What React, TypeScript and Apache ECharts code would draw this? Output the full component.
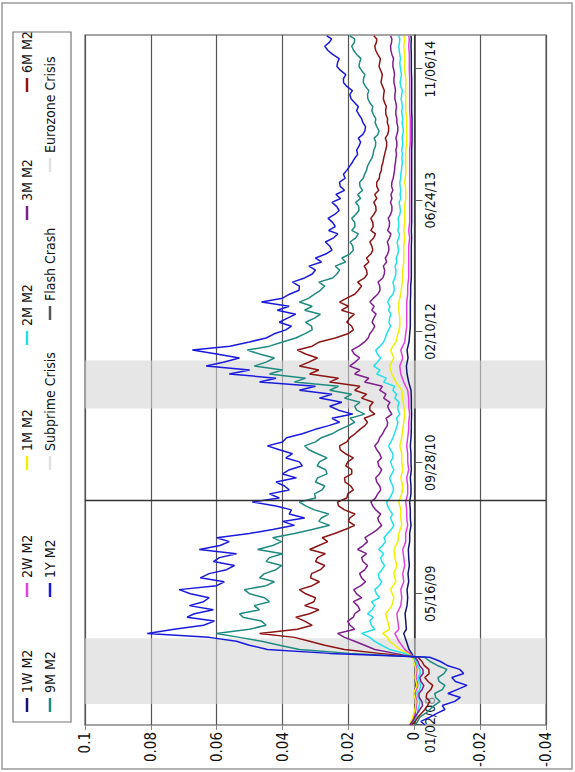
import React, { useEffect, useRef } from "react";
import * as echarts from "echarts";

// ---------- data ----------
// monthly sampling (short-tenor series)
const datesMonthly = [
  "2008-01-02", "2008-02-01", "2008-03-01", "2008-04-01", "2008-05-01", "2008-06-01", "2008-07-01", "2008-08-01",
  "2008-09-01", "2008-09-16", "2008-10-01", "2008-10-16", "2008-11-01", "2008-11-16", "2008-12-01", "2008-12-16",
  "2009-01-01", "2009-02-01", "2009-03-01", "2009-04-01", "2009-05-01", "2009-06-01", "2009-07-01", "2009-08-01", "2009-09-01", "2009-10-01", "2009-11-01", "2009-12-01",
  "2010-01-01", "2010-02-01", "2010-03-01", "2010-04-01", "2010-05-01", "2010-06-01", "2010-07-01", "2010-08-01", "2010-09-01", "2010-10-01", "2010-11-01", "2010-12-01",
  "2011-01-01", "2011-02-01", "2011-03-01", "2011-04-01", "2011-05-01", "2011-06-01", "2011-07-01", "2011-08-01", "2011-09-01", "2011-10-01", "2011-11-01", "2011-12-01",
  "2012-01-01", "2012-02-01", "2012-03-01", "2012-04-01", "2012-05-01", "2012-06-01", "2012-07-01", "2012-08-01", "2012-09-01", "2012-10-01", "2012-11-01", "2012-12-01",
  "2013-01-01", "2013-02-01", "2013-03-01", "2013-04-01", "2013-05-01", "2013-06-01", "2013-07-01", "2013-08-01", "2013-09-01", "2013-10-01", "2013-11-01", "2013-12-01",
  "2014-01-01", "2014-02-01", "2014-03-01", "2014-04-01", "2014-05-01", "2014-06-01", "2014-07-01", "2014-08-01", "2014-09-01", "2014-10-01", "2014-11-01", "2014-12-01",
  "2015-01-01", "2015-02-01", "2015-03-01", "2015-03-13",
];

// semi-monthly sampling (longer-tenor series)
const datesHalfMonthly = [
  "2008-01-02", "2008-01-16", "2008-02-01", "2008-02-16", "2008-03-01", "2008-03-16", "2008-04-01", "2008-04-16", "2008-05-01", "2008-05-16", "2008-06-01", "2008-06-16",
  "2008-07-01", "2008-07-16", "2008-08-01", "2008-08-16", "2008-09-01", "2008-09-16", "2008-10-01", "2008-10-16", "2008-11-01", "2008-11-16", "2008-12-01", "2008-12-16",
  "2009-01-01", "2009-01-16", "2009-02-01", "2009-02-16", "2009-03-01", "2009-03-16", "2009-04-01", "2009-04-16", "2009-05-01", "2009-05-16", "2009-06-01", "2009-06-16",
  "2009-07-01", "2009-07-16", "2009-08-01", "2009-08-16", "2009-09-01", "2009-09-16", "2009-10-01", "2009-10-16", "2009-11-01", "2009-11-16", "2009-12-01", "2009-12-16",
  "2010-01-01", "2010-01-16", "2010-02-01", "2010-02-16", "2010-03-01", "2010-03-16", "2010-04-01", "2010-04-16", "2010-05-01", "2010-05-16", "2010-06-01", "2010-06-16",
  "2010-07-01", "2010-07-16", "2010-08-01", "2010-08-16", "2010-09-01", "2010-09-16", "2010-10-01", "2010-10-16", "2010-11-01", "2010-11-16", "2010-12-01", "2010-12-16",
  "2011-01-01", "2011-01-16", "2011-02-01", "2011-02-16", "2011-03-01", "2011-03-16", "2011-04-01", "2011-04-16", "2011-05-01", "2011-05-16", "2011-06-01", "2011-06-16",
  "2011-07-01", "2011-07-16", "2011-08-01", "2011-08-16", "2011-09-01", "2011-09-16", "2011-10-01", "2011-10-16", "2011-11-01", "2011-11-16", "2011-12-01", "2011-12-16",
  "2012-01-01", "2012-01-16", "2012-02-01", "2012-02-16", "2012-03-01", "2012-03-16", "2012-04-01", "2012-04-16", "2012-05-01", "2012-05-16", "2012-06-01", "2012-06-16",
  "2012-07-01", "2012-07-16", "2012-08-01", "2012-08-16", "2012-09-01", "2012-09-16", "2012-10-01", "2012-10-16", "2012-11-01", "2012-11-16", "2012-12-01", "2012-12-16",
  "2013-01-01", "2013-01-16", "2013-02-01", "2013-02-16", "2013-03-01", "2013-03-16", "2013-04-01", "2013-04-16", "2013-05-01", "2013-05-16", "2013-06-01", "2013-06-16",
  "2013-07-01", "2013-07-16", "2013-08-01", "2013-08-16", "2013-09-01", "2013-09-16", "2013-10-01", "2013-10-16", "2013-11-01", "2013-11-16", "2013-12-01", "2013-12-16",
  "2014-01-01", "2014-01-16", "2014-02-01", "2014-02-16", "2014-03-01", "2014-03-16", "2014-04-01", "2014-04-16", "2014-05-01", "2014-05-16", "2014-06-01", "2014-06-16",
  "2014-07-01", "2014-07-16", "2014-08-01", "2014-08-16", "2014-09-01", "2014-09-16", "2014-10-01", "2014-10-16", "2014-11-01", "2014-11-16", "2014-12-01", "2014-12-16",
  "2015-01-01", "2015-01-16", "2015-02-01", "2015-02-16", "2015-03-01", "2015-03-13",
];

const w1M2 = [
  0.0008, 0.0002, -0.0003, -0.0005, 0.0, -0.0006, -0.0002, -0.0004, 0.0, 0.0002,
  0.0008, 0.0016, 0.002, 0.0024, 0.0028, 0.0032,
  0.0024, 0.0026, 0.0028, 0.0022, 0.002, 0.0022, 0.0017, 0.0019, 0.0015, 0.0017, 0.0018, 0.0014,
  0.0014, 0.001, 0.0012, 0.0012, 0.0014, 0.001, 0.001, 0.0012, 0.0009, 0.001, 0.001, 0.0012,
  0.001, 0.0009, 0.0009, 0.0008, 0.0009, 0.0009, 0.001, 0.0017, 0.0022, 0.0024, 0.0019, 0.0022,
  0.0016, 0.0014, 0.0012, 0.0012, 0.0012, 0.0012, 0.0011, 0.0011, 0.0009, 0.0009, 0.0009, 0.0009,
  0.0009, 0.0008, 0.0009, 0.0008, 0.0008, 0.0008, 0.0008, 0.0008, 0.0008, 0.0008, 0.0008, 0.0008,
  0.0008, 0.0007, 0.0007, 0.0007, 0.0007, 0.0008, 0.0008, 0.0008, 0.0008, 0.0008, 0.0009, 0.0009,
  0.0009, 0.001, 0.0009, 0.001,
];

const w2M2 = [
  0.0011, 0.0002, -0.0005, -0.0008, -0.0002, -0.0011, -0.0005, -0.0008, -0.0002, 0.0002,
  0.0014, 0.0029, 0.0038, 0.0047, 0.0053, 0.0059,
  0.0047, 0.005, 0.0053, 0.0041, 0.0038, 0.0041, 0.0032, 0.0035, 0.0029, 0.0032, 0.0035, 0.0026,
  0.0026, 0.002, 0.0023, 0.0023, 0.0026, 0.002, 0.002, 0.0023, 0.0017, 0.002, 0.002, 0.0023,
  0.002, 0.0017, 0.0017, 0.0014, 0.0017, 0.0017, 0.002, 0.0032, 0.0041, 0.0044, 0.0035, 0.0041,
  0.0029, 0.0026, 0.0023, 0.0023, 0.0023, 0.0023, 0.002, 0.002, 0.0017, 0.0017, 0.0017, 0.0017,
  0.0017, 0.0014, 0.0017, 0.0014, 0.0014, 0.0014, 0.0014, 0.0014, 0.0014, 0.0014, 0.0014, 0.0014,
  0.0014, 0.0012, 0.0012, 0.0012, 0.0012, 0.0014, 0.0014, 0.0014, 0.0014, 0.0014, 0.0015, 0.0015,
  0.0015, 0.0017, 0.0015, 0.0017,
];

const m1M2 = [
  0.0014, 0.0005, -0.0002, -0.0005, 0.0002, -0.0008, -0.0002, -0.0005, 0.0002, 0.0005,
  0.002, 0.0044, 0.0059, 0.0075, 0.0081, 0.0096,
  0.0075, 0.0081, 0.0087, 0.0068, 0.0062, 0.0072, 0.0056, 0.0062, 0.0053, 0.0059, 0.0062, 0.005,
  0.0047, 0.0038, 0.0041, 0.0041, 0.0047, 0.0038, 0.0035, 0.0041, 0.0035, 0.0038, 0.0038, 0.0044,
  0.0038, 0.0035, 0.0032, 0.0029, 0.0032, 0.0035, 0.0038, 0.0056, 0.0068, 0.0075, 0.0062, 0.0072,
  0.0056, 0.005, 0.0044, 0.0044, 0.0047, 0.0047, 0.0041, 0.0038, 0.0035, 0.0035, 0.0032, 0.0032,
  0.0032, 0.0029, 0.0032, 0.0029, 0.0029, 0.0029, 0.0026, 0.0026, 0.0029, 0.0026, 0.0026, 0.0026,
  0.0026, 0.0023, 0.0023, 0.0023, 0.0023, 0.0026, 0.0026, 0.0026, 0.0026, 0.0026, 0.0029, 0.0029,
  0.0029, 0.0032, 0.0029, 0.0032,
];

const m2M2 = [
  0.0008, 0.0, -0.0005, -0.0009, -0.0011, -0.0015, -0.0017, -0.0012, -0.0008, -0.0016, -0.002, -0.0014,
  -0.0011, -0.0018, -0.0017, -0.001, -0.0005, 0.0002, 0.0029, 0.0075, 0.0099, 0.012, 0.0135, 0.016,
  0.012, 0.013, 0.0135, 0.0125, 0.0142, 0.0128, 0.012, 0.013, 0.0105, 0.0115, 0.012, 0.0106,
  0.0099, 0.0108, 0.0108, 0.0098, 0.009, 0.0099, 0.0102, 0.0093, 0.0108, 0.0097, 0.0087, 0.0092,
  0.0081, 0.007, 0.0062, 0.0068, 0.0072, 0.0066, 0.0075, 0.0081, 0.0084, 0.0074, 0.0068, 0.0063,
  0.0065, 0.0071, 0.0075, 0.0068, 0.0062, 0.0068, 0.0072, 0.0065, 0.0065, 0.0072, 0.0078, 0.0071,
  0.0065, 0.006, 0.0056, 0.0052, 0.005, 0.0054, 0.0044, 0.0049, 0.005, 0.0046, 0.0059, 0.0054,
  0.0065, 0.006, 0.0093, 0.0085, 0.0114, 0.0104, 0.0123, 0.0112, 0.0102, 0.0112, 0.0117, 0.0104,
  0.0093, 0.0088, 0.0084, 0.0078, 0.0072, 0.0077, 0.0075, 0.0071, 0.0078, 0.0074, 0.0081, 0.0075,
  0.0065, 0.0061, 0.0062, 0.0065, 0.0059, 0.0056, 0.0056, 0.0058, 0.0053, 0.0055, 0.005, 0.0048,
  0.005, 0.0052, 0.0047, 0.0045, 0.005, 0.0047, 0.0047, 0.0049, 0.0044, 0.0042, 0.0044, 0.0046,
  0.0041, 0.0043, 0.0041, 0.0043, 0.0044, 0.0041, 0.0041, 0.0039, 0.0038, 0.0036, 0.0038, 0.0036,
  0.0038, 0.0036, 0.0035, 0.0037, 0.0035, 0.0033, 0.0035, 0.0037, 0.0035, 0.0037, 0.0038, 0.0036,
  0.0038, 0.004, 0.0038, 0.0036, 0.0041, 0.0043, 0.0041, 0.0039, 0.0041, 0.0043, 0.0044, 0.0042,
  0.0044, 0.0046, 0.0047, 0.0045, 0.0044, 0.0047,
];

const m3M2 = [
  0.0014, 0.0005, -0.0002, -0.001, -0.0017, -0.0025, -0.0023, -0.0015, -0.0014, -0.0024, -0.0029, -0.002,
  -0.0017, -0.0027, -0.0026, -0.0016, -0.0011, -0.0002, 0.0059, 0.012, 0.0151, 0.0181, 0.0212, 0.0233,
  0.0181, 0.0195, 0.0202, 0.0185, 0.0181, 0.0165, 0.0172, 0.0185, 0.016, 0.0175, 0.0184, 0.0162,
  0.0148, 0.016, 0.0166, 0.015, 0.0142, 0.0156, 0.016, 0.0145, 0.0172, 0.0155, 0.0142, 0.015,
  0.0129, 0.0112, 0.0099, 0.0108, 0.0111, 0.0102, 0.0117, 0.0126, 0.0132, 0.0118, 0.0111, 0.0102,
  0.0105, 0.0114, 0.0117, 0.0106, 0.0099, 0.0108, 0.0111, 0.01, 0.0105, 0.0114, 0.012, 0.011,
  0.0105, 0.0096, 0.009, 0.0082, 0.0081, 0.0086, 0.0068, 0.0076, 0.0081, 0.0074, 0.0093, 0.0086,
  0.0105, 0.0097, 0.0151, 0.0138, 0.0181, 0.0165, 0.0196, 0.018, 0.0166, 0.0182, 0.019, 0.0168,
  0.0151, 0.014, 0.0135, 0.0126, 0.012, 0.0128, 0.0123, 0.0116, 0.0129, 0.0122, 0.0135, 0.0124,
  0.0111, 0.0104, 0.0105, 0.011, 0.0096, 0.0091, 0.009, 0.0094, 0.0084, 0.0088, 0.0081, 0.0077,
  0.0078, 0.0082, 0.0075, 0.0071, 0.0081, 0.0076, 0.0075, 0.0079, 0.0072, 0.0068, 0.0068, 0.0072,
  0.0068, 0.0071, 0.0065, 0.0069, 0.0068, 0.0064, 0.0062, 0.006, 0.0059, 0.0057, 0.0056, 0.0054,
  0.0056, 0.0053, 0.0053, 0.0056, 0.0053, 0.005, 0.005, 0.0053, 0.0053, 0.0056, 0.0056, 0.0054,
  0.0056, 0.0059, 0.0059, 0.0057, 0.0059, 0.0062, 0.0062, 0.006, 0.0062, 0.0065, 0.0065, 0.0063,
  0.0068, 0.0071, 0.0072, 0.0069, 0.0068, 0.0072,
];

const m6M2 = [
  0.0008, -0.0003, -0.0011, -0.0022, -0.0032, -0.004, -0.0047, -0.0036, -0.0038, -0.005, -0.0056, -0.0042,
  -0.0032, -0.0045, -0.0044, -0.003, -0.0023, -0.0011, 0.0105, 0.0212, 0.0272, 0.0318, 0.0364, 0.047,
  0.0355, 0.031, 0.0333, 0.036, 0.0318, 0.029, 0.0333, 0.0305, 0.03, 0.033, 0.0349, 0.031,
  0.0288, 0.0315, 0.0312, 0.0285, 0.0272, 0.03, 0.0294, 0.027, 0.0318, 0.029, 0.0263, 0.028,
  0.0242, 0.021, 0.0181, 0.02, 0.0196, 0.018, 0.0212, 0.023, 0.0233, 0.0205, 0.0202, 0.0185,
  0.0193, 0.021, 0.0212, 0.019, 0.019, 0.0208, 0.0202, 0.0185, 0.0209, 0.0225, 0.0227, 0.0205,
  0.0196, 0.018, 0.0166, 0.015, 0.0142, 0.0152, 0.012, 0.0135, 0.0135, 0.0125, 0.016, 0.0145,
  0.0181, 0.0165, 0.0257, 0.023, 0.0318, 0.029, 0.0349, 0.032, 0.0294, 0.033, 0.0355, 0.031,
  0.0288, 0.024, 0.0202, 0.0185, 0.019, 0.0205, 0.0196, 0.0182, 0.0221, 0.02, 0.0227, 0.0205,
  0.0181, 0.017, 0.016, 0.0172, 0.0151, 0.0143, 0.0145, 0.0152, 0.0138, 0.0145, 0.0132, 0.0126,
  0.0129, 0.0135, 0.0123, 0.0118, 0.0132, 0.0125, 0.0126, 0.0132, 0.0123, 0.0116, 0.0117, 0.0123,
  0.0114, 0.012, 0.0108, 0.0114, 0.0114, 0.0106, 0.0105, 0.01, 0.0099, 0.0095, 0.0093, 0.009,
  0.0087, 0.0084, 0.0084, 0.0088, 0.0081, 0.0078, 0.0078, 0.0082, 0.0081, 0.0086, 0.0087, 0.0085,
  0.009, 0.0094, 0.0093, 0.0091, 0.0096, 0.0101, 0.0099, 0.0097, 0.0102, 0.0107, 0.0105, 0.0103,
  0.0111, 0.0117, 0.012, 0.0115, 0.0114, 0.0123,
];

const m9M2 = [
  -0.0002, -0.001, -0.0017, -0.0035, -0.0047, -0.006, -0.0078, -0.0065, -0.0062, -0.0085, -0.0093, -0.0075,
  -0.0072, -0.009, -0.0099, -0.007, -0.0047, -0.0032, 0.0196, 0.0349, 0.0409, 0.0464, 0.0531, 0.0601,
  0.0501, 0.045, 0.0464, 0.052, 0.0531, 0.047, 0.0486, 0.044, 0.0455, 0.05, 0.0516, 0.045,
  0.0425, 0.047, 0.0455, 0.042, 0.0403, 0.045, 0.044, 0.04, 0.0476, 0.043, 0.0403, 0.043,
  0.0364, 0.031, 0.0257, 0.029, 0.0282, 0.026, 0.0303, 0.033, 0.0349, 0.03, 0.0303, 0.028,
  0.0272, 0.03, 0.0294, 0.0265, 0.0269, 0.0295, 0.0288, 0.0265, 0.0294, 0.032, 0.0333, 0.03,
  0.0282, 0.025, 0.0227, 0.02, 0.0181, 0.0195, 0.0151, 0.0175, 0.0181, 0.0165, 0.0212, 0.019,
  0.0257, 0.023, 0.0364, 0.033, 0.044, 0.04, 0.0486, 0.045, 0.0425, 0.047, 0.0507, 0.044,
  0.04, 0.036, 0.0333, 0.031, 0.0312, 0.033, 0.0303, 0.0285, 0.0333, 0.031, 0.0349, 0.032,
  0.0303, 0.0285, 0.0272, 0.029, 0.0248, 0.0235, 0.0227, 0.024, 0.0209, 0.022, 0.0196, 0.0185,
  0.0187, 0.0195, 0.0178, 0.017, 0.019, 0.018, 0.0181, 0.019, 0.0178, 0.0168, 0.0169, 0.0178,
  0.0163, 0.0172, 0.0157, 0.0165, 0.0166, 0.0155, 0.0151, 0.0145, 0.0142, 0.0136, 0.0129, 0.0125,
  0.0123, 0.0118, 0.0117, 0.0122, 0.0111, 0.0107, 0.0114, 0.0119, 0.0117, 0.0124, 0.0129, 0.0126,
  0.0135, 0.0141, 0.0142, 0.0138, 0.0148, 0.0155, 0.0154, 0.015, 0.016, 0.0168, 0.0166, 0.0162,
  0.0175, 0.0184, 0.019, 0.0182, 0.0181, 0.0196,
];

const y1M2 = [
  -0.0032, -0.002, -0.0047, -0.007, -0.0093, -0.0085, -0.0123, -0.014, -0.0102, -0.013, -0.016, -0.0125,
  -0.0114, -0.015, -0.0138, -0.01, -0.0078, -0.0047, 0.0257, 0.0446, 0.0501, 0.054, 0.0623, 0.0811,
  0.0729, 0.064, 0.0607, 0.069, 0.0668, 0.061, 0.0683, 0.064, 0.0623, 0.068, 0.0714, 0.06,
  0.0577, 0.065, 0.0623, 0.057, 0.0546, 0.061, 0.0592, 0.054, 0.0653, 0.059, 0.0562, 0.06,
  0.0501, 0.043, 0.0364, 0.04, 0.0333, 0.038, 0.0373, 0.042, 0.0492, 0.041, 0.044, 0.038,
  0.0394, 0.042, 0.0358, 0.04, 0.0379, 0.034, 0.0349, 0.039, 0.037, 0.041, 0.0446, 0.04,
  0.0388, 0.034, 0.0303, 0.026, 0.0227, 0.025, 0.0187, 0.023, 0.0257, 0.022, 0.0288, 0.025,
  0.0349, 0.03, 0.047, 0.042, 0.0562, 0.05, 0.0632, 0.058, 0.0531, 0.06, 0.0674, 0.056,
  0.0501, 0.045, 0.0425, 0.039, 0.0373, 0.041, 0.0385, 0.036, 0.0416, 0.038, 0.0464, 0.04,
  0.0379, 0.035, 0.0349, 0.037, 0.0333, 0.031, 0.03, 0.032, 0.0282, 0.03, 0.0269, 0.025,
  0.0257, 0.027, 0.0245, 0.0232, 0.026, 0.024, 0.0248, 0.0262, 0.0242, 0.0228, 0.0236, 0.025,
  0.0224, 0.0238, 0.0212, 0.0225, 0.0227, 0.021, 0.0215, 0.0205, 0.0196, 0.0188, 0.0181, 0.0172,
  0.0175, 0.0168, 0.0163, 0.017, 0.0157, 0.015, 0.0148, 0.0156, 0.016, 0.0168, 0.0175, 0.017,
  0.0181, 0.0192, 0.0196, 0.0188, 0.0205, 0.0215, 0.0215, 0.0208, 0.0224, 0.0235, 0.0233, 0.0228,
  0.0248, 0.0262, 0.0272, 0.0258, 0.0251, 0.0266,
];

const subprimeCrisis = ["2008-03-22", "2008-11-28"];
const flashCrash = "2010-05-06";
const eurozoneCrisis = ["2011-04-22", "2011-10-22"];

const axisStart = "2008-01-02";
const axisEnd = "2015-03-16";
const timeTicks = ["2008-01-02", "2009-05-16", "2010-09-28", "2012-02-10", "2013-06-24", "2014-11-06"];
const valueMin = -0.04;
const valueMax = 0.1;
const valueStep = 0.02;

// ---------- helpers ----------
const DAY = 86400000;
const base = (() => {
  const [y, m, d] = axisStart.split("-").map(Number);
  return Date.UTC(y, m - 1, d);
})();
const dayOf = (s: string) => {
  const [y, m, d] = s.split("-").map(Number);
  return Math.round((Date.UTC(y, m - 1, d) - base) / DAY);
};
const pad = (n: number) => (n < 10 ? "0" + n : "" + n);
const fmtDay = (v: number) => {
  const dt = new Date(base + Math.round(v) * DAY);
  return pad(dt.getUTCMonth() + 1) + "/" + pad(dt.getUTCDate()) + "/" + pad(dt.getUTCFullYear() % 100);
};

const FONT = "'Liberation Sans Narrow', 'Arial Narrow', 'DejaVu Sans Condensed', sans-serif";

const lineSeries = [
  { name: "1W M2", dates: datesMonthly, values: w1M2, color: "#141470" },
  { name: "2W M2", dates: datesMonthly, values: w2M2, color: "#e040e0" },
  { name: "1M M2", dates: datesMonthly, values: m1M2, color: "#f0f000" },
  { name: "2M M2", dates: datesHalfMonthly, values: m2M2, color: "#22e0ea" },
  { name: "3M M2", dates: datesHalfMonthly, values: m3M2, color: "#7d1f8c" },
  { name: "6M M2", dates: datesHalfMonthly, values: m6M2, color: "#8c1414" },
  { name: "9M M2", dates: datesHalfMonthly, values: m9M2, color: "#1f8a80" },
  { name: "1Y M2", dates: datesHalfMonthly, values: y1M2, color: "#1a1adc" },
];

// legend layout (name, left, top) in the unrotated chart
const legendLayout: [string, number, number][] = [
  ["1W M2", 60, 20], ["2W M2", 175, 20], ["1M M2", 302, 20], ["2M M2", 427, 20], ["3M M2", 552, 20], ["6M M2", 680, 20],
  ["9M M2", 60, 43], ["1Y M2", 175, 43], ["Subprime Crisis", 302, 43], ["Flash Crash", 452, 43], ["Eurozone Crisis", 600, 43],
];

export default function App() {
  const ref = useRef<HTMLDivElement>(null);

  useEffect(() => {
    if (!ref.current) return;
    const chart = echarts.init(ref.current, null, { renderer: "svg" });
    const tickDays = timeTicks.map(dayOf);

    const series: any[] = lineSeries.map((s) => ({
      name: s.name,
      type: "line",
      symbol: "none",
      color: s.color,
      lineStyle: { width: 1.5, color: s.color },
      data: s.dates.map((d, i) => [dayOf(d), s.values[i]]),
      z: 2,
    }));

    series.push({
      name: "Subprime Crisis",
      type: "line",
      data: [],
      color: "#e2e2e2",
      z: 10,
      markArea: {
        silent: true,
        itemStyle: { color: "rgba(213,213,213,0.6)" },
        data: [[{ xAxis: dayOf(subprimeCrisis[0]) }, { xAxis: dayOf(subprimeCrisis[1]) }]],
      },
    });
    series.push({
      name: "Flash Crash",
      type: "line",
      data: [],
      color: "#555555",
      z: 10,
      markLine: {
        silent: true,
        symbol: "none",
        label: { show: false },
        lineStyle: { color: "#333", width: 1.3, type: "solid" },
        data: [{ xAxis: dayOf(flashCrash) }],
      },
    });
    series.push({
      name: "Eurozone Crisis",
      type: "line",
      data: [],
      color: "#e2e2e2",
      z: 10,
      markArea: {
        silent: true,
        itemStyle: { color: "rgba(213,213,213,0.6)" },
        data: [[{ xAxis: dayOf(eurozoneCrisis[0]) }, { xAxis: dayOf(eurozoneCrisis[1]) }]],
      },
    });

    const legends = legendLayout.map(([name, left, top]) => ({
      data: [name],
      left,
      top,
      padding: 0,
      icon: "rect",
      itemWidth: 14,
      itemHeight: 2.5,
      selectedMode: false,
      textStyle: { fontSize: 14, fontFamily: FONT, color: "#111" },
    }));

    chart.setOption({
      animation: false,
      backgroundColor: "#fff",
      textStyle: { fontFamily: FONT },
      graphic: [
        {
          type: "rect",
          shape: { x: 3, y: 2, width: 766, height: 570 },
          style: { fill: "none", stroke: "#9a9a9a", lineWidth: 1.5 },
          silent: true,
        },
        {
          type: "rect",
          shape: { x: 50, y: 13, width: 690, height: 58 },
          style: { fill: "none", stroke: "#777", lineWidth: 1.2 },
          silent: true,
        },
      ],
      legend: legends,
      grid: { left: 47, right: 35, top: 85, bottom: 29, show: true, borderColor: "#888", borderWidth: 1.5, containLabel: false },
      xAxis: {
        type: "value",
        min: dayOf(axisStart),
        max: dayOf(axisEnd),
        position: "bottom",
        axisLine: { onZero: false, lineStyle: { color: "#333", width: 1.5 } },
        axisTick: { show: true, customValues: tickDays, length: 8, lineStyle: { color: "#555" } },
        axisLabel: {
          customValues: tickDays,
          formatter: (v: number) => fmtDay(v),
          fontSize: 14,
          fontFamily: FONT,
          color: "#111",
          margin: 9,
        },
        splitLine: { show: false },
      },
      yAxis: {
        type: "value",
        min: valueMin,
        max: valueMax,
        interval: valueStep,
        axisLine: { show: false },
        axisTick: { show: true, length: 5, lineStyle: { color: "#888" } },
        axisLabel: {
          formatter: (v: number) => String(parseFloat(v.toFixed(2))),
          fontSize: 15,
          fontFamily: FONT,
          color: "#111",
          margin: 7,
        },
        splitLine: { show: true, lineStyle: { color: "#555", width: 1.2 } },
      },
      series,
    });

    // move the date axis onto the zero line of the value axis
    const zeroPx = chart.convertToPixel({ yAxisIndex: 0 }, 0) as number;
    const minPx = chart.convertToPixel({ yAxisIndex: 0 }, valueMin) as number;
    chart.setOption({ xAxis: { offset: zeroPx - minPx } });

    return () => chart.dispose();
  }, []);

  return (
    <div style={{ position: "fixed", left: 0, top: 0, width: 575, height: 772, overflow: "hidden", background: "#fff" }}>
      <div
        ref={ref}
        style={{
          position: "absolute",
          left: 0,
          top: 0,
          width: 772,
          height: 575,
          transformOrigin: "0 0",
          transform: "translate(0px, 772px) rotate(-90deg)",
        }}
      />
    </div>
  );
}
